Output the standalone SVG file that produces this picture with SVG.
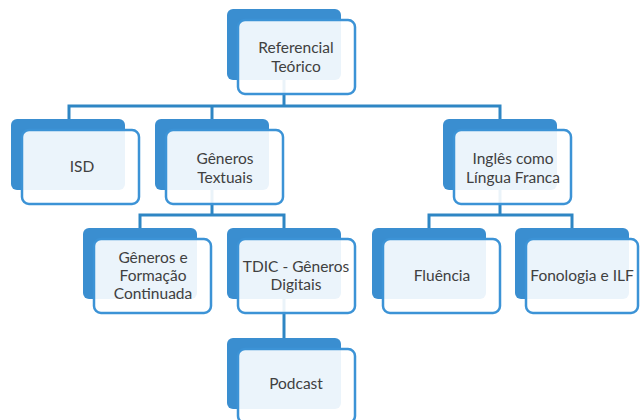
<svg xmlns="http://www.w3.org/2000/svg" width="640" height="420" viewBox="0 0 640 420">
<style>
.back{fill:#3A8ED0;}
.front{fill:#ffffff;fill-opacity:0.9;stroke:#3C93D6;stroke-width:2.5;}
.conn{fill:none;stroke:#2E86C4;stroke-width:3;}
.lbl{font-family:Lato,"Open Sans","Liberation Sans",sans-serif;font-size:15.5px;fill:#404040;text-anchor:middle;}
</style>
<rect width="640" height="420" fill="#ffffff"/>
<g id="connectors">
<path class="conn" d="M284,79 V106"/>
<path class="conn" d="M69,119 V106 H500 V119"/>
<path class="conn" d="M212,106 V119"/>
<path class="conn" d="M212,189 V215"/>
<path class="conn" d="M140,228 V215 H284 V228"/>
<path class="conn" d="M500,189 V215"/>
<path class="conn" d="M429,228 V215 H572 V228"/>
<path class="conn" d="M284,298 V338"/>
</g>
<g id="referencial">
<rect class="back" x="227" y="9" width="114" height="71" rx="6"/>
<rect class="front" x="238" y="20" width="117" height="74" rx="7"/>
<text class="lbl" x="296" y="53">Referencial</text>
<text class="lbl" x="296" y="72">Teórico</text>
</g>
<g id="isd">
<rect class="back" x="11" y="119" width="114" height="71" rx="6"/>
<rect class="front" x="22" y="130" width="117" height="74" rx="7"/>
<text class="lbl" x="82" y="172">ISD</text>
</g>
<g id="generos-textuais">
<rect class="back" x="155" y="119" width="114" height="71" rx="6"/>
<rect class="front" x="166" y="130" width="117" height="74" rx="7"/>
<text class="lbl" x="225" y="164">Gêneros</text>
<text class="lbl" x="225" y="183">Textuais</text>
</g>
<g id="ingles">
<rect class="back" x="443" y="119" width="114" height="71" rx="6"/>
<rect class="front" x="454" y="130" width="117" height="74" rx="7"/>
<text class="lbl" x="513" y="164">Inglês como</text>
<text class="lbl" x="513" y="183">Língua Franca</text>
</g>
<g id="generos-formacao">
<rect class="back" x="83" y="228" width="114" height="71" rx="6"/>
<rect class="front" x="94" y="239" width="117" height="74" rx="7"/>
<text class="lbl" x="153" y="263">Gêneros e</text>
<text class="lbl" x="153" y="281">Formação</text>
<text class="lbl" x="153" y="299">Continuada</text>
</g>
<g id="tdic">
<rect class="back" x="227" y="228" width="114" height="71" rx="6"/>
<rect class="front" x="238" y="239" width="117" height="74" rx="7"/>
<text class="lbl" x="296" y="272">TDIC - Gêneros</text>
<text class="lbl" x="296" y="290">Digitais</text>
</g>
<g id="fluencia">
<rect class="back" x="372" y="228" width="114" height="71" rx="6"/>
<rect class="front" x="383" y="239" width="117" height="74" rx="7"/>
<text class="lbl" x="442" y="281">Fluência</text>
</g>
<g id="fonologia">
<rect class="back" x="515" y="228" width="114" height="71" rx="6"/>
<rect class="front" x="526" y="239" width="112" height="74" rx="7"/>
<text class="lbl" x="582" y="281">Fonologia e ILF</text>
</g>
<g id="podcast">
<rect class="back" x="227" y="338" width="114" height="71" rx="6"/>
<rect class="front" x="238" y="349" width="117" height="74" rx="7"/>
<text class="lbl" x="296" y="389">Podcast</text>
</g>
</svg>
